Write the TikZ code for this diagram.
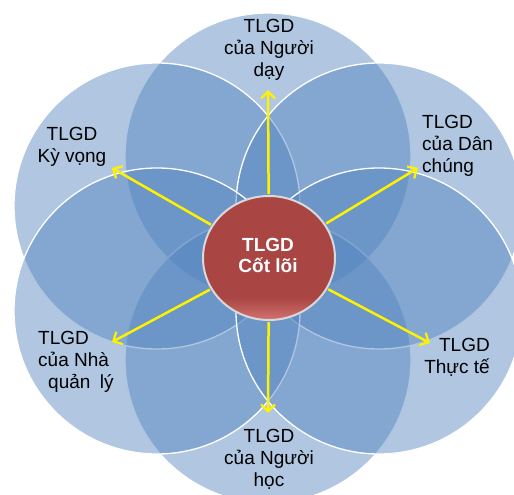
\documentclass[tikz,border=0pt]{standalone}
\usepackage{fontspec}
\setmainfont{Liberation Sans}
\usetikzlibrary{arrows.meta,shapes.geometric}
\definecolor{petal}{HTML}{4F81BD}
\definecolor{coreB}{HTML}{A94644}
\definecolor{coreC}{HTML}{D27270}
\definecolor{coreRim}{HTML}{D9D9D9}
\pgfdeclareverticalshading{corefill}{100bp}{color(0bp)=(coreC); color(25bp)=(coreC); color(34bp)=(coreB); color(100bp)=(coreB)}
\tikzset{
  petalc/.style={circle, minimum size=286pt, inner sep=0pt, fill=petal, fill opacity=0.45, draw=white, draw opacity=1, line width=1.3pt},
  ray/.style={draw=yellow, line width=2.5pt, -{Straight Barb[length=7pt,width=14pt,line width=2.2pt]}, shorten <=1pt},
  lbl/.style={inner sep=0pt, font=\fontsize{19}{22}\selectfont, text=black},
  corelbl/.style={inner sep=0pt, font=\fontsize{19}{21}\selectfont\bfseries, text=white, align=center},
}
\begin{document}
\begin{tikzpicture}[x=1pt,y=-1pt]
\useasboundingbox (0,0) rectangle (514,495);
\clip (0,0) rectangle (514,495);
% petals
\node[petalc] (T)  at (268,156) {};
\node[petalc] (B)  at (268,360) {};
\node[petalc] (UL) at (157,206) {};
\node[petalc] (UR) at (379,206) {};
\node[petalc] (LL) at (157,311) {};
\node[petalc] (LR) at (379,311) {};
% core
\node[ellipse, minimum width=132pt, minimum height=124pt, inner sep=0pt,
      draw=coreRim, line width=2pt, shading=corefill] (C) at (269,258) {};
\node[corelbl, anchor=north] (Ct) at (268,238.4) {TLGD\\Cốt lõi};
% arrow tips
\coordinate (pU)  at (268,90);
\coordinate (pD)  at (268,413);
\coordinate (pUL) at (112,168);
\coordinate (pUR) at (418,168);
\coordinate (pLL) at (112,342);
\coordinate (pLR) at (430,343);
\draw[ray] (C) -- (pU);
\draw[ray] (C) -- (pD);
\draw[ray] (C) -- (pUL);
\draw[ray] (C) -- (pUR);
\draw[ray] (C) -- (pLL);
\draw[ray] (C) -- (pLR);
% labels
\node[lbl, align=center, anchor=north] (lU) at (269,19.4) {TLGD\\của Người\\dạy};
\node[lbl, align=center, anchor=north] (lUL) at (72,127.4) {TLGD\\Kỳ vọng};
\node[lbl, align=left, anchor=north west] (lUR) at (422,115.4) {TLGD\\của Dân\\chúng};
\node[lbl, align=right, anchor=north east] (lLR) at (490,338.4) {TLGD\\Thực tế};
\node[lbl, align=left, anchor=north west] (lLL) at (38,331.4) {TLGD\\của Nhà\\\hspace*{10pt}quản\hspace{0.5em}lý};
\node[lbl, align=center, anchor=north] (lD) at (269,429.4) {TLGD\\của Người\\học};
\end{tikzpicture}
\end{document}
